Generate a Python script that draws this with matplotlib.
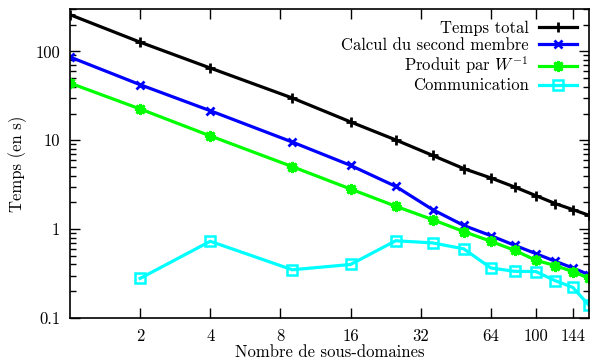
import matplotlib
matplotlib.use("Agg")
import matplotlib.pyplot as plt
from matplotlib.ticker import FixedLocator, FixedFormatter, LogLocator, NullLocator, NullFormatter

plt.rcParams['font.family'] = 'cmr10'
plt.rcParams['mathtext.fontset'] = 'cm'
plt.rcParams['axes.formatter.use_mathtext'] = True

# Data
subdomains = [1, 2, 4, 9, 16, 25, 36, 49, 64, 81, 100, 121, 144, 169]
temps_total = [259, 127, 65, 29.9, 16.1, 10.1, 6.76, 4.8, 3.77, 2.98, 2.38, 1.94, 1.66, 1.43]
second_membre = [86.5, 42.2, 21.5, 9.55, 5.22, 3.03, 1.66, 1.10, 0.845, 0.658, 0.53, 0.435, 0.366, 0.307]
produit_w = [44, 22.5, 11.2, 5.05, 2.83, 1.81, 1.28, 0.94, 0.73, 0.578, 0.446, 0.389, 0.333, 0.28]
comm_x = [2, 4, 9, 16, 25, 36, 49, 64, 81, 100, 121, 144, 169]
communication = [0.279, 0.73, 0.349, 0.40, 0.74, 0.70, 0.60, 0.366, 0.335, 0.333, 0.263, 0.221, 0.139]

xticks = [2, 4, 8, 16, 32, 64, 100, 144]
xticklabels = ['2', '4', '8', '16', '32', '64', '100', '144']
yticks = [0.1, 1, 10, 100]
yticklabels = ['0.1', '1', '10', '100']

FS = 12

fig = plt.figure(figsize=(5.98, 3.63), dpi=100)
ax = fig.add_axes([70/598, 45/363, (589-70)/598, (318-9)/363])

lw = 2.3
ax.plot(subdomains, temps_total, color='black', lw=lw, marker='+', ms=7, mew=2, label='Temps total')
ax.plot(subdomains, second_membre, color='#0000ff', lw=lw, marker='x', ms=6, mew=2, label='Calcul du second membre')
ax.plot(subdomains, produit_w, color='#00ff00', lw=lw, marker=(8, 2, 0), ms=8, mew=2, label='Produit par $W^{-1}$')
ax.plot(comm_x, communication, color='#00ffff', lw=lw, marker='s', ms=7, mew=1.8, mfc='none', label='Communication')

ax.set_xscale('log')
ax.set_yscale('log')
ax.set_xlim(1, 169)
ax.set_ylim(0.1, 300)

ax.xaxis.set_major_locator(FixedLocator(xticks))
ax.xaxis.set_major_formatter(FixedFormatter(xticklabels))
ax.xaxis.set_minor_locator(NullLocator())
ax.xaxis.set_minor_formatter(NullFormatter())
ax.yaxis.set_major_locator(FixedLocator(yticks))
ax.yaxis.set_major_formatter(FixedFormatter(yticklabels))
ax.yaxis.set_minor_locator(LogLocator(base=10, subs=range(2, 10)))
ax.yaxis.set_minor_formatter(NullFormatter())

ax.tick_params(which='both', direction='in', top=True, right=True, labelsize=FS, width=1)
ax.tick_params(which='major', length=7)
ax.tick_params(axis='y', which='major', pad=7)
ax.tick_params(axis='x', which='major', pad=8)
ax.tick_params(which='minor', length=4)
for s in ax.spines.values():
    s.set_linewidth(1.2)

ax.set_xlabel('Nombre de sous-domaines', fontsize=FS, labelpad=0.5)
ax.set_ylabel('Temps (en s)', fontsize=FS, labelpad=6)

ax.legend(loc='upper right', frameon=False, markerfirst=False, fontsize=FS,
          handlelength=2.3, handletextpad=0.6, labelspacing=0.1, borderaxespad=0.4,
          borderpad=0.3)

fig.savefig('out.png', dpi=100)
